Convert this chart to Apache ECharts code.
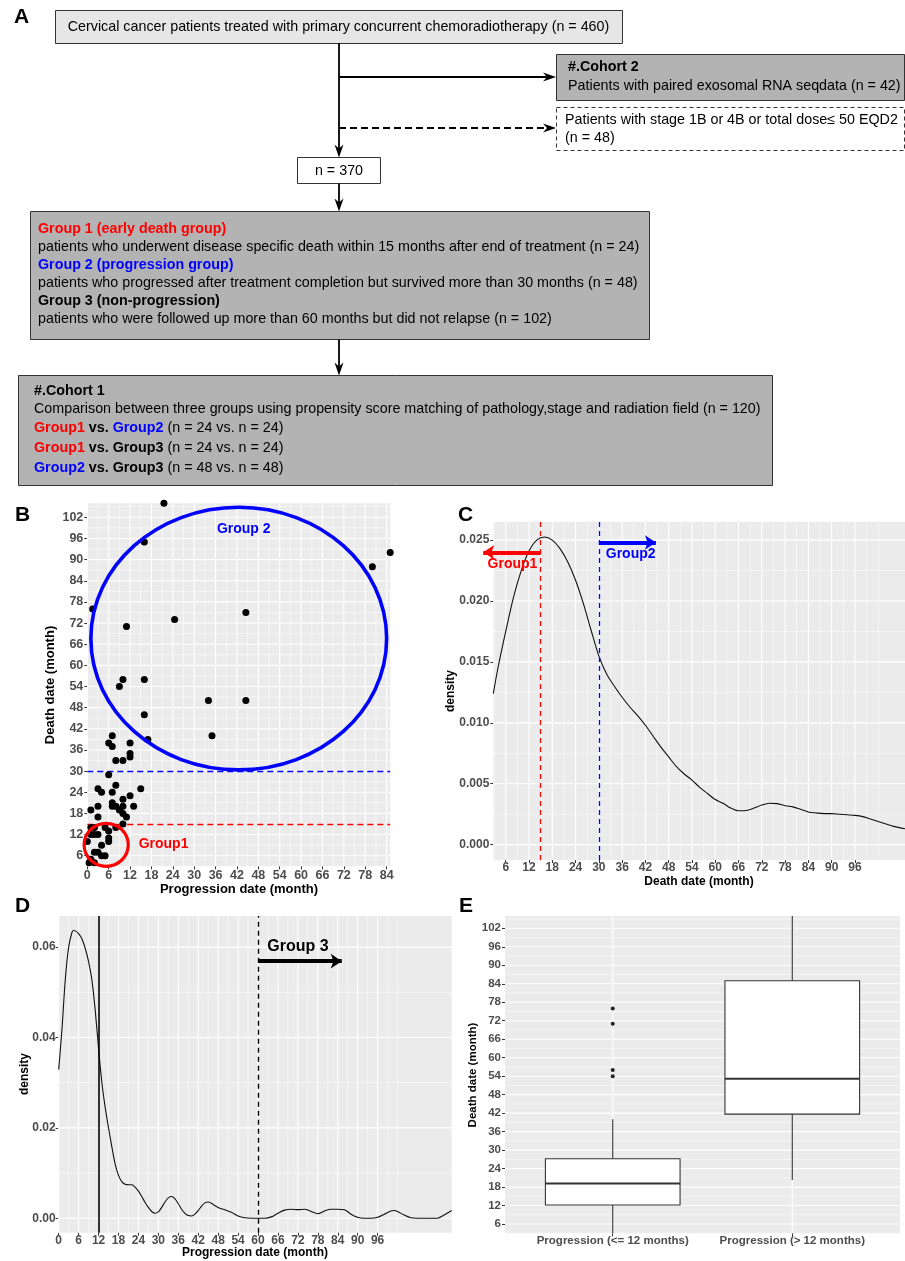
<!DOCTYPE html>
<html><head><meta charset="utf-8">
<script src="https://cdn.jsdelivr.net/npm/echarts@6/dist/echarts.min.js"></script>
<style>html,body{margin:0;padding:0;background:#fff}#c{width:905px;height:1261px}</style>
</head><body><div id="c"></div>
<script>
// ================= DATA =================
// Panel B: progression date (x) vs death date (y), months
const bPoints = [[21.5,106],[16,95],[85,92],[80,88],[1.5,76],[44.5,75],[24.5,73],[11,71],[10,56],[16,56],[9,54],
 [34,50],[44.5,50],[16,46],[17,39],[35,40],[7,40],[6,38],[7,37],[12,38],[12,35],[12,34],[8,33],[10,33],[6,29],
 [8,26],[3,25],[4,24],[7,24],[15,25],[1,19],[3,20],[7,21],[7,20],[8,20],[10,22],[10,20],[12,23],[13,20],[9,19],
 [10,18],[11,17],[3,17],[8,14],[10,15],[1,14],[2,14],[1,12],[2,12],[3,12],[0,10],[5,14],[6,13],[6,11],[6,10],
 [4,9],[2,7],[3,7],[4,6],[5,6],[0.5,4],[2,4],[1,5]];
const bXTicks = [0,6,12,18,24,30,36,42,48,54,60,66,72,78,84];
const bYTicks = [6,12,18,24,30,36,42,48,54,60,66,72,78,84,90,96,102];
const bCutoffs = [15, 30];                       // group 1 / group 2 death-date cut-offs
const bShapes = [[42.5,67.6,41.5,37.25],[5.3,9.1,6.2,6.1]]; // ellipse centre x,y and radii (months)
const bLabelText = ['Group 2','Group1'];
const bLabelPos = [[43.9,98.6],[21.4,9.2]];

// Panel C: density of death date
const cX = [2.8,4,6,8,10,12,14,16,18,20,22,24,26,28,30,32,34,36,38,40,42,44,46,48,50,52,54,56,58,60,62,64,66,68,70,72,74,76,78,80,82,84,86,88,90,92,94,96,98,100,102,104,106,108.9];
const cDensity = [0.0124,0.0145,0.0175,0.0203,0.0225,0.0241,0.0250,0.02525,0.0250,0.0243,0.0232,0.0217,0.0198,0.0176,0.0155,0.0140,0.0130,0.0121,0.0113,0.0106,0.0098,0.0089,0.0080,0.0072,0.0064,0.0058,0.0053,0.0047,0.0042,0.0037,0.0034,0.0030,0.00278,0.0028,0.0030,0.00325,0.0034,0.00337,0.0032,0.0031,0.0029,0.00268,0.0026,0.00255,0.00255,0.0025,0.00245,0.0024,0.0023,0.0021,0.0019,0.0017,0.0015,0.0013];
const cXTicks = [6,12,18,24,30,36,42,48,54,60,66,72,78,84,90,96];
const cYTicks = [0,0.005,0.01,0.015,0.02,0.025];
const cCutoffs = [15, 30];
const cArrows = [[[15,0.024],[0.2,0.024]],[[30,0.0248],[44.7,0.0248]]];
const cLabelText = ['Group1','Group2'];
const cLabelPos = [[7.75,0.0230],[38.2,0.02383]];

// Panel D: density of progression date
const dX = [0,1,2,3,4,4.5,5,6,7,8,9,10,11,12,13,14,15,16,17,18,19,20,21,22,23,24,25,26,27,28,29,30,31,32,33,34,35,36,37,38,39,40,41,42,43,44,45,46,47,48,49,50,52,54,56,58,60,62,64,66,68,70,72,74,76,78,80,82,84,86,88,90,92,94,96,98,100,101,102,104,106,108,110,112,114,116,118.3];
const dDensity = [0.0329,0.0420,0.0530,0.0600,0.0633,0.0637,0.0636,0.0630,0.0618,0.0597,0.0568,0.0527,0.0460,0.0375,0.0300,0.0245,0.0200,0.0158,0.0120,0.0095,0.0081,0.0075,0.0074,0.0074,0.0069,0.0060,0.0048,0.0035,0.0024,0.0015,0.0011,0.0014,0.0024,0.0036,0.0045,0.0048,0.0043,0.0032,0.0020,0.0011,0.0006,0.0005,0.0009,0.0017,0.0027,0.0034,0.0036,0.0033,0.0028,0.0024,0.0021,0.0019,0.0013,0.0005,0.0001,0.0000,0.0000,0.0000,0.0003,0.0011,0.0018,0.0020,0.0019,0.0020,0.0015,0.0010,0.0016,0.0020,0.0020,0.0019,0.0009,0.0002,0.0000,0.0000,0.0002,0.0009,0.0016,0.0017,0.0015,0.0007,0.0001,0.0000,0.0000,0.0000,0.0000,0.0007,0.0017];
const dXTicks = [0,6,12,18,24,30,36,42,48,54,60,66,72,78,84,90,96];
const dYTicks = [0,0.02,0.04,0.06];
const dCutoffs = [12, 60];
const dArrow = [[60,0.0569],[85.2,0.0569]];
const dLabelText = ['Group 3'];
const dLabelPos = [[72,0.0601]];

// Panel E: boxplot of death date by progression group
const eCategories = ['Progression (<= 12 months)','Progression (> 12 months)'];
const eLow = [3, 20.3];
const eQ1 = [12.2, 41.7];
const eMedian = [19.2, 53.2];
const eQ3 = [27.2, 85];
const eHigh = [40, 106];
const eOutliers = [[1,76],[1,71],[1,56],[1,54]];
const eYTicks = [6,12,18,24,30,36,42,48,54,60,66,72,78,84,90,96,102];

// ================= CHART =================
const FONT = 'Liberation Sans';
const FS = 14.3; // flowchart font size
const chart = echarts.init(document.getElementById('c'), null, {renderer:'canvas'});

function valueAxis(gridIndex, min, max, ticks, fmt, fontSize, margin) {
  return {type:'value', gridIndex, min, max,
    axisLine:{show:false, onZero:false},
    splitLine:{show:false}, minorSplitLine:{show:false},
    axisTick:{show:true, length:3, customValues:ticks, lineStyle:{color:'#333333', width:1}},
    axisLabel:{show:true, customValues:ticks, formatter:fmt, color:'#4D4D4D', fontWeight:'bold',
      fontSize, fontFamily:FONT, margin, hideOverlap:false}};
}
function minors(t, s) {
  const r = [t[0]-s];
  for (let i=-1;i<t.length;i++) r.push((i<0 ? t[0]-s : t[i]) + s/2);
  r.push(t[t.length-1]+s);
  return r;
}
function gridData(xt, xs, yt, ys) {
  const out = [];
  xt.forEach(v=>out.push([v,0,1]));
  if (xs) minors(xt,xs).forEach(v=>out.push([v,0,0]));
  yt.forEach(v=>out.push([v,1,1]));
  minors(yt,ys).forEach(v=>out.push([v,1,0]));
  return out;
}
function gridRender(params, api) {
  const cs = params.coordSys;
  const v = api.value(0), o = api.value(1), m = api.value(2);
  const p = api.coord([v, v]);
  const style = {stroke:'#FFFFFF', lineWidth: m ? 1.1 : 0.55};
  if (o === 0) return {type:'line', shape:{x1:p[0], y1:cs.y, x2:p[0], y2:cs.y+cs.height}, style};
  return {type:'line', shape:{x1:cs.x, y1:p[1], x2:cs.x+cs.width, y2:p[1]}, style};
}
function gridSeries(i, data) {
  return {type:'custom', xAxisIndex:i, yAxisIndex:i, z:1, silent:true, clip:true, renderItem:gridRender, data};
}
function textSeries(i, pos, texts, colors, fontSize) {
  return {type:'custom', xAxisIndex:i, yAxisIndex:i, z:6, silent:true, clip:false,
    data: pos.map(p=>p.slice()),
    renderItem(params, api) {
      const p = api.coord([api.value(0), api.value(1)]);
      return {type:'text', x:p[0], y:p[1], style:{text:texts[params.dataIndex], fill:colors[params.dataIndex],
        fontSize, fontWeight:'bold', fontFamily:FONT, align:'center', verticalAlign:'middle'}};
    }};
}

const series = [];
// ---- B ----
series.push(gridSeries(0, gridData(bXTicks, 6, bYTicks, 6)));
series.push({type:'scatter', xAxisIndex:0, yAxisIndex:0, z:3, data:bPoints, symbolSize:7,
  itemStyle:{color:'#000000', opacity:1}, silent:true,
  markLine:{silent:true, symbol:'none', label:{show:false}, z:2,
    data:[{yAxis:bCutoffs[0], lineStyle:{color:'#FF0000', type:[6,4], width:1.4}},
          {yAxis:bCutoffs[1], lineStyle:{color:'#0000FF', type:[6,4], width:1.4}}]}});
series.push({type:'custom', xAxisIndex:0, yAxisIndex:0, z:4, silent:true, clip:false, data:bShapes,
  renderItem(params, api) {
    const c = api.coord([api.value(0), api.value(1)]);
    const s = api.size([api.value(2), api.value(3)]);
    const col = ['#0000FF','#FF0000'][params.dataIndex];
    const lw = [3.6, 3.2][params.dataIndex];
    return {type:'ellipse', shape:{cx:c[0], cy:c[1], rx:s[0], ry:s[1]}, style:{fill:null, stroke:col, lineWidth:lw}};
  }});
series.push(textSeries(0, bLabelPos, bLabelText, ['#0000FF','#FF0000'], 14));

// ---- C ----
series.push(gridSeries(1, gridData(cXTicks, 6, cYTicks, 0.005)));
series.push({type:'line', xAxisIndex:1, yAxisIndex:1, z:3, smooth:0.3, symbol:'none', silent:true,
  data:cX.map((x,i)=>[x,cDensity[i]]), lineStyle:{color:'#111111', width:1.1},
  markLine:{silent:true, symbol:'none', label:{show:false},
    data:[{xAxis:cCutoffs[0], lineStyle:{color:'#FF0000', type:[5,4], width:1.3}},
          {xAxis:cCutoffs[1], lineStyle:{color:'#0000FF', type:[5,4], width:1.3}}]}});
series.push({type:'lines', coordinateSystem:'cartesian2d', xAxisIndex:1, yAxisIndex:1, z:5, clip:false, silent:true,
  symbol:['none','arrow'], symbolSize:11,
  data:[{coords:cArrows[0], lineStyle:{color:'#FF0000'}},{coords:cArrows[1], lineStyle:{color:'#0000FF'}}],
  lineStyle:{width:4, opacity:1}});
series.push(textSeries(1, cLabelPos, cLabelText, ['#FF0000','#0000FF'], 14));

// ---- D ----
series.push(gridSeries(2, gridData(dXTicks, 6, dYTicks, 0.02)));
series.push({type:'line', xAxisIndex:2, yAxisIndex:2, z:3, smooth:0.3, symbol:'none', silent:true,
  data:dX.map((x,i)=>[x,dDensity[i]]), lineStyle:{color:'#111111', width:1.1},
  markLine:{silent:true, symbol:'none', label:{show:false},
    data:[{xAxis:dCutoffs[0], lineStyle:{color:'#000000', type:'solid', width:1.6}},
          {xAxis:dCutoffs[1], lineStyle:{color:'#000000', type:[5,4], width:1.4}}]}});
series.push({type:'lines', coordinateSystem:'cartesian2d', xAxisIndex:2, yAxisIndex:2, z:5, clip:false, silent:true,
  symbol:['none','arrow'], symbolSize:11,
  data:[{coords:dArrow}], lineStyle:{width:4, color:'#000000', opacity:1}});
series.push(textSeries(2, dLabelPos, dLabelText, ['#000000'], 16));

// ---- E ----
series.push(gridSeries(3, gridData([1,2], 0, eYTicks, 6)));
series.push({type:'custom', xAxisIndex:3, yAxisIndex:3, z:3, silent:true, clip:true,
  data: eCategories.map((c,i)=>[i+1, eLow[i], eQ1[i], eMedian[i], eQ3[i], eHigh[i]]),
  renderItem(params, api) {
    const x = api.value(0);
    const lo = api.coord([x, api.value(1)]), q1 = api.coord([x, api.value(2)]),
          md = api.coord([x, api.value(3)]), q3 = api.coord([x, api.value(4)]), hi = api.coord([x, api.value(5)]);
    const half = api.size([0.375, 0])[0];
    const st = {stroke:'#333333', lineWidth:1.1};
    return {type:'group', children:[
      {type:'line', shape:{x1:lo[0], y1:q3[1], x2:lo[0], y2:hi[1]}, style:st},
      {type:'line', shape:{x1:lo[0], y1:lo[1], x2:lo[0], y2:q1[1]}, style:st},
      {type:'rect', shape:{x:lo[0]-half, y:q3[1], width:2*half, height:q1[1]-q3[1]}, style:{fill:'#FFFFFF', stroke:'#333333', lineWidth:1.1}},
      {type:'line', shape:{x1:lo[0]-half, y1:md[1], x2:lo[0]+half, y2:md[1]}, style:{stroke:'#333333', lineWidth:2}}
    ]};
  }});
series.push({type:'scatter', xAxisIndex:3, yAxisIndex:3, z:4, silent:true, data:eOutliers, symbolSize:4,
  itemStyle:{color:'#222222', opacity:1}});

// ================= GRAPHIC (flowchart, titles, panel letters) =================
const G = [];
function T(x, y, text, o) {
  G.push({type:'text', x, y, silent:true, z:10, style:Object.assign({text, fill:'#000000', fontSize:FS,
    fontFamily:FONT, align:'left', verticalAlign:'middle'}, o||{})});
}
function R(x, y, w, h, fill, dash) {
  G.push({type:'rect', silent:true, z:9, shape:{x, y, width:w, height:h},
    style:{fill, stroke:'#333333', lineWidth:1, lineDash:dash||null}});
}
function L(x1, y1, x2, y2, dash) {
  G.push({type:'line', silent:true, z:9, shape:{x1, y1, x2, y2}, style:{stroke:'#000000', lineWidth:1.8, lineDash:dash||null}});
}
function headDown(x, y) {
  G.push({type:'polygon', silent:true, z:9, shape:{points:[[x-4.5,y-13],[x,y],[x+4.5,y-13],[x,y-9]]}, style:{fill:'#000000'}});
}
function headRight(x, y) {
  G.push({type:'polygon', silent:true, z:9, shape:{points:[[x-13,y-4.5],[x,y],[x-13,y+4.5],[x-9,y]]}, style:{fill:'#000000'}});
}
const B = {fontWeight:'bold'};

// panel letters
T(14, 17, 'A', {fontSize:21, fontWeight:'bold'});
T(15, 515, 'B', {fontSize:21, fontWeight:'bold'});
T(458, 515, 'C', {fontSize:21, fontWeight:'bold'});
T(15, 906, 'D', {fontSize:21, fontWeight:'bold'});
T(459, 906, 'E', {fontSize:21, fontWeight:'bold'});

// flowchart
R(55.5, 10.5, 567, 33, '#E6E6E6');
T(338.5, 27, 'Cervical cancer patients treated with primary concurrent chemoradiotherapy (n = 460)', {align:'center'});
L(339, 43, 339, 150); headDown(339, 157.5);
L(339, 77, 548, 77); headRight(556, 77);
L(339, 128, 548, 128, [7,4]); headRight(556, 128);
R(556.5, 54.5, 348, 46, '#B3B3B3');
T(568, 67, '#.Cohort 2', B);
T(568, 86, 'Patients with paired exosomal RNA seqdata (n = 42)');
R(556.5, 107.5, 348, 43, '#FFFFFF', [4,3]);
T(565, 120, 'Patients with stage 1B or 4B or total dose\u2264 50 EQD2');
T(565, 138, '(n = 48)');
R(297.5, 157.5, 83, 26, '#FFFFFF');
T(339, 171, 'n = 370', {align:'center'});
L(339, 183.5, 339, 204); headDown(339, 211.5);
R(30.5, 211.5, 619, 128, '#B3B3B3');
T(38, 229, 'Group 1 (early death group)', {fill:'#FF0000', fontWeight:'bold'});
T(38, 247, 'patients who underwent disease specific death within 15 months after end of treatment (n = 24)');
T(38, 265, 'Group 2 (progression group)', {fill:'#0000FF', fontWeight:'bold'});
T(38, 283, 'patients who progressed after treatment completion but survived more than 30 months (n = 48)');
T(38, 301, 'Group 3 (non-progression)', B);
T(38, 319, 'patients who were followed up more than 60 months but did not relapse (n = 102)');
L(339, 339.5, 339, 368); headDown(339, 375.5);
R(18.5, 375.5, 754, 110, '#B3B3B3');
T(34, 391, '#.Cohort 1', B);
T(34, 409, 'Comparison between three groups using propensity score matching of pathology,stage and radiation field (n = 120)');
const rich = {r:{fill:'#FF0000', fontWeight:'bold', fontSize:FS, fontFamily:FONT},
              u:{fill:'#0000FF', fontWeight:'bold', fontSize:FS, fontFamily:FONT},
              k:{fill:'#000000', fontWeight:'bold', fontSize:FS, fontFamily:FONT},
              n:{fill:'#000000', fontSize:FS, fontFamily:FONT}};
T(34, 428, '{r|Group1}{k| vs. }{u|Group2}{n| (n = 24 vs. n = 24)}', {rich});
T(34, 448, '{r|Group1}{k| vs. Group3}{n| (n = 24 vs. n = 24)}', {rich});
T(34, 468, '{u|Group2}{k| vs. Group3}{n| (n = 48 vs. n = 48)}', {rich});

// axis titles
T(239, 889, 'Progression date (month)', {fontSize:13, fontWeight:'bold', align:'center'});
G.push({type:'text', x:50, y:685, rotation:Math.PI/2, silent:true, z:10, style:{text:'Death date (month)', fill:'#000', fontSize:13, fontWeight:'bold', fontFamily:FONT, align:'center', verticalAlign:'middle'}});
T(699, 882, 'Death date (month)', {fontSize:12, fontWeight:'bold', align:'center'});
G.push({type:'text', x:451, y:691, rotation:Math.PI/2, silent:true, z:10, style:{text:'density', fill:'#000', fontSize:12, fontWeight:'bold', fontFamily:FONT, align:'center', verticalAlign:'middle'}});
T(255, 1253, 'Progression date (month)', {fontSize:12, fontWeight:'bold', align:'center'});
G.push({type:'text', x:25, y:1074, rotation:Math.PI/2, silent:true, z:10, style:{text:'density', fill:'#000', fontSize:12, fontWeight:'bold', fontFamily:FONT, align:'center', verticalAlign:'middle'}});
G.push({type:'text', x:473, y:1075, rotation:Math.PI/2, silent:true, z:10, style:{text:'Death date (month)', fill:'#000', fontSize:11.5, fontWeight:'bold', fontFamily:FONT, align:'center', verticalAlign:'middle'}});

const gridBase = {show:true, backgroundColor:'#EBEBEB', borderWidth:0, containLabel:false};
const option = {
  animation:false,
  textStyle:{fontFamily:FONT},
  grid:[
    Object.assign({left:87.3, top:503.2, width:302.9, height:363.1}, gridBase),
    Object.assign({left:493.3, top:521.7, width:411.7, height:338.3}, gridBase),
    Object.assign({left:58.7, top:916, width:393, height:316.7}, gridBase),
    Object.assign({left:505, top:916, width:395, height:317.3}, gridBase)
  ],
  xAxis:[
    valueAxis(0, 0, 85, bXTicks, v=>String(v), 12.5, 3),
    valueAxis(1, 2.8, 108.9, cXTicks, v=>String(v), 12, 2),
    valueAxis(2, 0, 118.3, dXTicks, v=>String(v), 12, 2),
    valueAxis(3, 0.4, 2.6, [1,2], v=>eCategories[Math.round(v)-1], 11.5, 2)
  ],
  yAxis:[
    valueAxis(0, 3, 106, bYTicks, v=>String(v), 12.5, 4),
    valueAxis(1, -0.00126, 0.02651, cYTicks, v=>v.toFixed(3), 12, 4),
    valueAxis(2, -0.0032, 0.0669, dYTicks, v=>v.toFixed(2), 12, 3),
    valueAxis(3, 3, 106, eYTicks, v=>String(v), 11.5, 4)
  ],
  series,
  graphic:{elements:G}
};
chart.setOption(option);
</script></body></html>
